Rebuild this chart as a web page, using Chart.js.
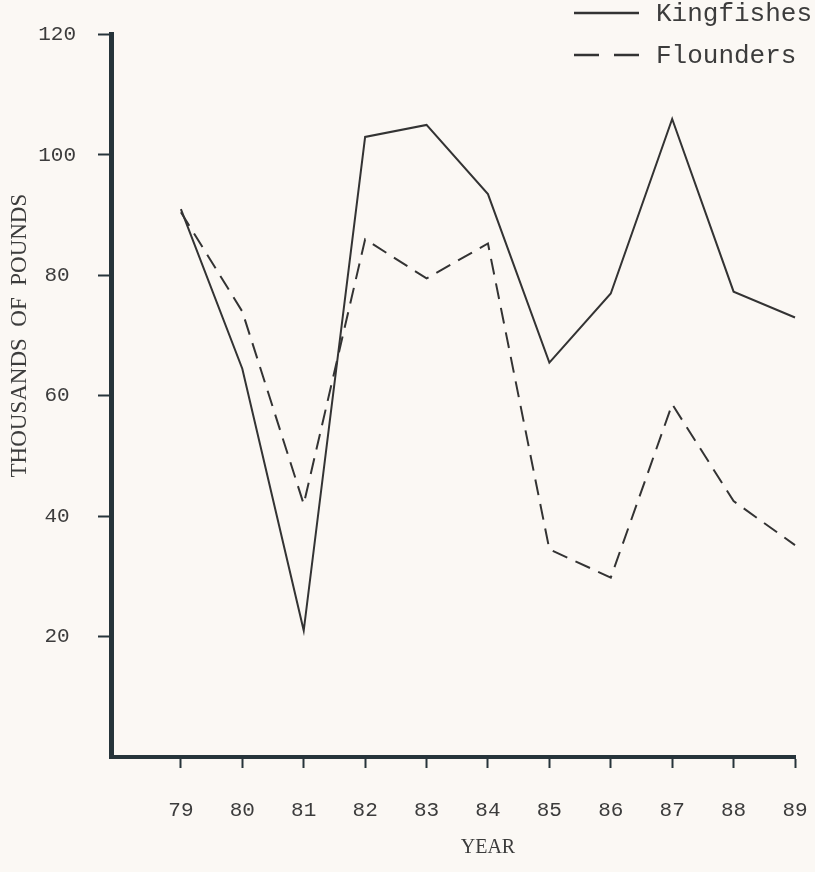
<!DOCTYPE html>
<html><head><meta charset="utf-8">
<script src="https://cdn.jsdelivr.net/npm/chart.js@4.4.1/dist/chart.umd.min.js"></script>
<style>html,body{margin:0;padding:0;background:#fbf8f4;} canvas{display:block;}</style>
</head><body>
<canvas id="c" width="815" height="872"></canvas>
<script>
const years = [79, 80, 81, 82, 83, 84, 85, 86, 87, 88, 89];
const kingfishes = [91, 64.5, 21, 103, 105, 93.5, 65.5, 77, 106, 77.3, 73];
const flounders = [90.5, 74, 42, 86, 79.5, 85.3, 34.5, 29.8, 58.6, 42.5, 35.2];
const yTickValues = [20, 40, 60, 80, 100, 120];
const seriesNames = ['Kingfishes', 'Flounders'];
const xTitle = 'YEAR';
const yTitle = 'THOUSANDS  OF  POUNDS';

const INK = '#333333';
const AXIS = '#26343a';
const TEXT = '#3c3c3c';
const MONO = '"Liberation Mono", "DejaVu Sans Mono", monospace';
const SERIF = '"Liberation Serif", "DejaVu Serif", serif';

const bgPlugin = {
  id: 'bg',
  beforeDraw(chart) {
    const ctx = chart.ctx;
    ctx.save();
    ctx.fillStyle = '#fbf8f4';
    ctx.fillRect(0, 0, chart.width, chart.height);
    ctx.restore();
  }
};

const legendPlugin = {
  id: 'sideLegend',
  afterDraw(chart) {
    const ctx = chart.ctx;
    const rows = [13, 55];
    ctx.save();
    chart.data.datasets.forEach((ds, i) => {
      const y = rows[i];
      ctx.beginPath();
      ctx.strokeStyle = ds.borderColor;
      ctx.lineWidth = 2.5;
      ctx.setLineDash(i === 0 ? [] : [25, 15]);
      ctx.moveTo(574, y);
      ctx.lineTo(639, y);
      ctx.stroke();
      ctx.setLineDash([]);
      ctx.fillStyle = TEXT;
      ctx.font = '26px ' + MONO;
      ctx.textBaseline = 'middle';
      ctx.textAlign = 'left';
      ctx.fillText(ds.label, 656, y + 1);
    });
    ctx.restore();
  }
};

const titlesPlugin = {
  id: 'axisTitles',
  afterDraw(chart) {
    const xs = chart.scales.x;
    const ys = chart.scales.y;
    const ctx = chart.ctx;
    ctx.save();
    ctx.fillStyle = TEXT;
    ctx.textAlign = 'center';
    ctx.textBaseline = 'middle';
    ctx.font = '20px ' + SERIF;
    const mid = (years[0] + years[years.length - 1]) / 2;
    ctx.fillText(xTitle, xs.getPixelForValue(mid), 848);
    ctx.translate(20, ys.getPixelForValue(70));
    ctx.rotate(-Math.PI / 2);
    ctx.font = '23px ' + SERIF;
    ctx.fillText(yTitle, 0, 0);
    ctx.restore();
  }
};

const toPoints = (vals) => years.map((yr, i) => ({ x: yr, y: vals[i] }));

new Chart(document.getElementById('c'), {
  type: 'line',
  data: {
    datasets: [
      { label: seriesNames[0], data: toPoints(kingfishes), borderColor: INK, borderWidth: 2, pointRadius: 0, tension: 0, fill: false, clip: false },
      { label: seriesNames[1], data: toPoints(flounders), borderColor: INK, borderWidth: 2, borderDash: [16, 9], pointRadius: 0, tension: 0, fill: false, clip: false }
    ]
  },
  options: {
    responsive: false,
    animation: false,
    events: [],
    layout: { padding: { left: 0, right: 20, top: 34, bottom: 0 } },
    plugins: { legend: { display: false }, tooltip: { enabled: false } },
    scales: {
      x: {
        type: 'linear',
        min: years[0] - 70 / 61.5,
        max: years[years.length - 1],
        afterBuildTicks: (s) => { s.ticks = years.map(v => ({ value: v })); },
        afterFit: (s) => { s.height = 872 - 757; s.paddingRight = 0; s.paddingLeft = 0; },
        ticks: {
          autoSkip: false, maxRotation: 0,
          padding: 30,
          color: TEXT,
          font: { family: MONO, size: 21 },
          callback: (v) => String(v)
        },
        grid: { drawOnChartArea: false, drawTicks: true, tickLength: 11, tickWidth: 2, color: AXIS, tickColor: AXIS },
        border: { display: true, color: AXIS, width: 4 }
      },
      y: {
        min: 0, max: 120,
        afterBuildTicks: (s) => { s.ticks = yTickValues.map(v => ({ value: v })); },
        afterFit: (s) => { s.width = 111; },
        ticks: {
          padding: 22,
          crossAlign: 'center',
          color: TEXT,
          font: { family: MONO, size: 21 },
          callback: (v) => String(v)
        },
        grid: { drawOnChartArea: false, drawTicks: true, tickLength: 13, tickWidth: 2, color: AXIS, tickColor: AXIS },
        border: { display: true, color: AXIS, width: 5 }
      }
    }
  },
  plugins: [bgPlugin, legendPlugin, titlesPlugin]
});
</script>
</body></html>
